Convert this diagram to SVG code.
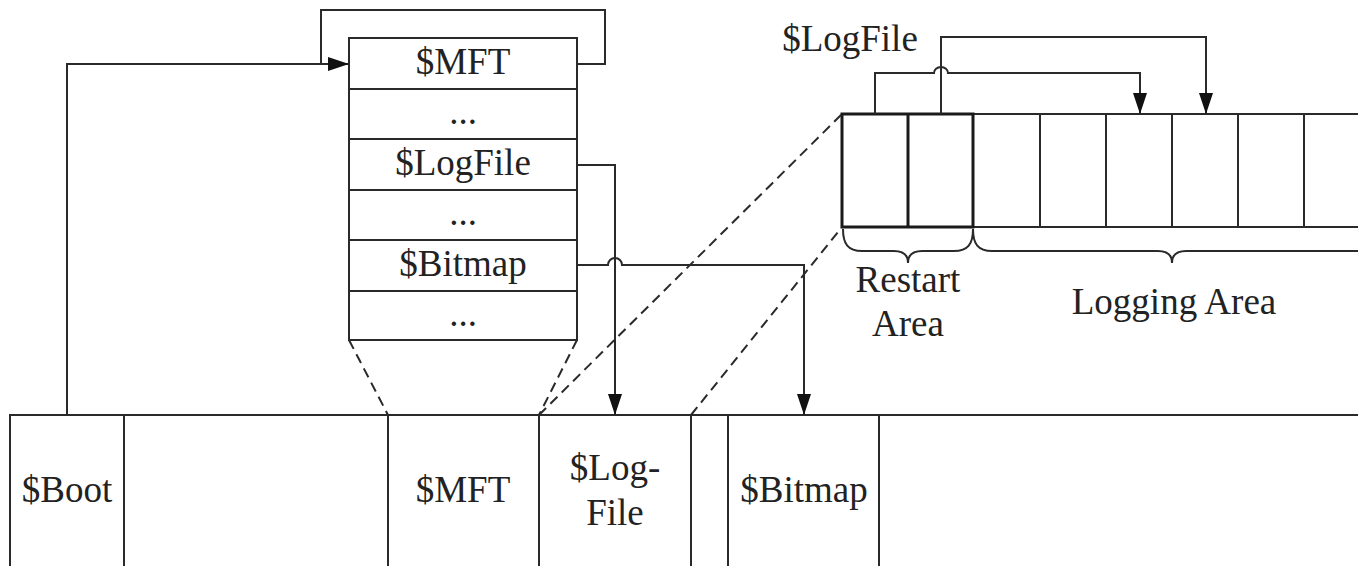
<svg xmlns="http://www.w3.org/2000/svg" width="1358" height="566" viewBox="0 0 1358 566">
  <style>
    .box { fill: #fff; stroke: #2a2a2a; stroke-width: 2; }
    .thick { fill: none; stroke: #1a1a1a; stroke-width: 3; }
    .ln { fill: none; stroke: #2a2a2a; stroke-width: 2; }
    .wire { fill: none; stroke: #2a2a2a; stroke-width: 2; stroke-linejoin: miter; }
    .dash { fill: none; stroke: #2a2a2a; stroke-width: 2; stroke-dasharray: 10 6; }
    .brace { fill: none; stroke: #2a2a2a; stroke-width: 2; }
    text { font-family: "Liberation Serif", "Times New Roman", serif; font-size: 37px; fill: #222; text-anchor: middle; }
  </style>
  <defs>
    <marker id="arrow" markerUnits="userSpaceOnUse" markerWidth="21" markerHeight="14" refX="21" refY="7" orient="auto">
      <path d="M0,0 L21,7 L0,14 Z" fill="#111"/>
    </marker>
  </defs>

  <rect width="1358" height="566" fill="#fff"/>

  <!-- disk layout strip -->
  <g id="volume">
    <rect class="box" x="10" y="415" width="1360" height="170"/>
    <g id="vol-boot">
      <line class="ln" x1="124" y1="415" x2="124" y2="570"/>
      <text x="67" y="502">$Boot</text>
    </g>
    <g id="vol-mft">
      <line class="ln" x1="388" y1="415" x2="388" y2="570"/>
      <text x="463" y="502">$MFT</text>
    </g>
    <g id="vol-logfile">
      <line class="ln" x1="539" y1="415" x2="539" y2="570"/>
      <line class="ln" x1="691" y1="415" x2="691" y2="570"/>
      <text x="615" y="480">$Log-</text>
      <text x="615" y="525">File</text>
    </g>
    <g id="vol-bitmap">
      <line class="ln" x1="728" y1="415" x2="728" y2="570"/>
      <line class="ln" x1="879" y1="415" x2="879" y2="570"/>
      <text x="804" y="502">$Bitmap</text>
    </g>
  </g>

  <!-- MFT record table -->
  <g id="mft-table">
    <rect class="box" x="349" y="38" width="228" height="302"/>
    <line class="ln" x1="349" y1="89" x2="577" y2="89"/>
    <line class="ln" x1="349" y1="139" x2="577" y2="139"/>
    <line class="ln" x1="349" y1="190" x2="577" y2="190"/>
    <line class="ln" x1="349" y1="240" x2="577" y2="240"/>
    <line class="ln" x1="349" y1="291" x2="577" y2="291"/>
    <g id="rec-mft"><text x="463" y="74">$MFT</text></g>
    <g id="rec-dots1"><text x="463" y="124">...</text></g>
    <g id="rec-logfile"><text x="463" y="175">$LogFile</text></g>
    <g id="rec-dots2"><text x="463" y="225">...</text></g>
    <g id="rec-bitmap"><text x="463" y="276">$Bitmap</text></g>
    <g id="rec-dots3"><text x="463" y="326">...</text></g>
  </g>

  <!-- $LogFile page layout -->
  <g id="logfile-pages">
    <rect class="box" x="842" y="114" width="530" height="113"/>
    <line class="ln" x1="1040" y1="114" x2="1040" y2="227"/>
    <line class="ln" x1="1106" y1="114" x2="1106" y2="227"/>
    <line class="ln" x1="1172" y1="114" x2="1172" y2="227"/>
    <line class="ln" x1="1238" y1="114" x2="1238" y2="227"/>
    <line class="ln" x1="1304" y1="114" x2="1304" y2="227"/>
    <g id="restart-pages">
      <rect class="thick" x="842" y="114" width="131" height="113"/>
      <line class="thick" x1="908" y1="114" x2="908" y2="227"/>
    </g>
    <text id="logfile-title" x="850" y="51">$LogFile</text>
  </g>

  <g id="restart-area">
    <path class="brace" d="M843,229 C843,244 848,251 862,251 H894 C904,251 908,255 908,263 C908,255 912,251 922,251 H954 C968,251 973,244 973,229"/>
    <text x="908" y="292">Restart</text>
    <text x="908" y="336">Area</text>
  </g>
  <g id="logging-area">
    <path class="brace" d="M973,229 C973,244 978,251 992,251 H1158 C1168,251 1172,255 1172,263 C1172,255 1176,251 1186,251 H1370"/>
    <text x="1174" y="314">Logging Area</text>
  </g>

  <!-- connectors -->
  <g id="connectors">
    <!-- boot sector points at the MFT -->
    <path class="wire" d="M67,415 V64 H322"/>
    <!-- MFT describes itself -->
    <path class="wire" d="M577,64 H605 V10 H321 V64 H349" marker-end="url(#arrow)"/>
    <!-- $LogFile record to its data -->
    <path class="wire" d="M577,165 H615 V415" marker-end="url(#arrow)"/>
    <!-- $Bitmap record to its data, hopping over the $LogFile wire -->
    <path class="wire" d="M577,265 H608 A7,7 0 0 1 622,265 H804 V415" marker-end="url(#arrow)"/>
    <!-- restart pages to log records -->
    <path class="wire" d="M875,114 V73 H934 A7,6 0 0 1 948,73 H1140 V114" marker-end="url(#arrow)"/>
    <path class="wire" d="M941,114 V37 H1206 V114" marker-end="url(#arrow)"/>
    <!-- zoom guides -->
    <line class="dash" x1="349" y1="340" x2="388" y2="415"/>
    <line class="dash" x1="577" y1="340" x2="539" y2="415"/>
    <line class="dash" x1="539" y1="415" x2="842" y2="114"/>
    <line class="dash" x1="691" y1="415" x2="842" y2="227"/>
  </g>
</svg>
